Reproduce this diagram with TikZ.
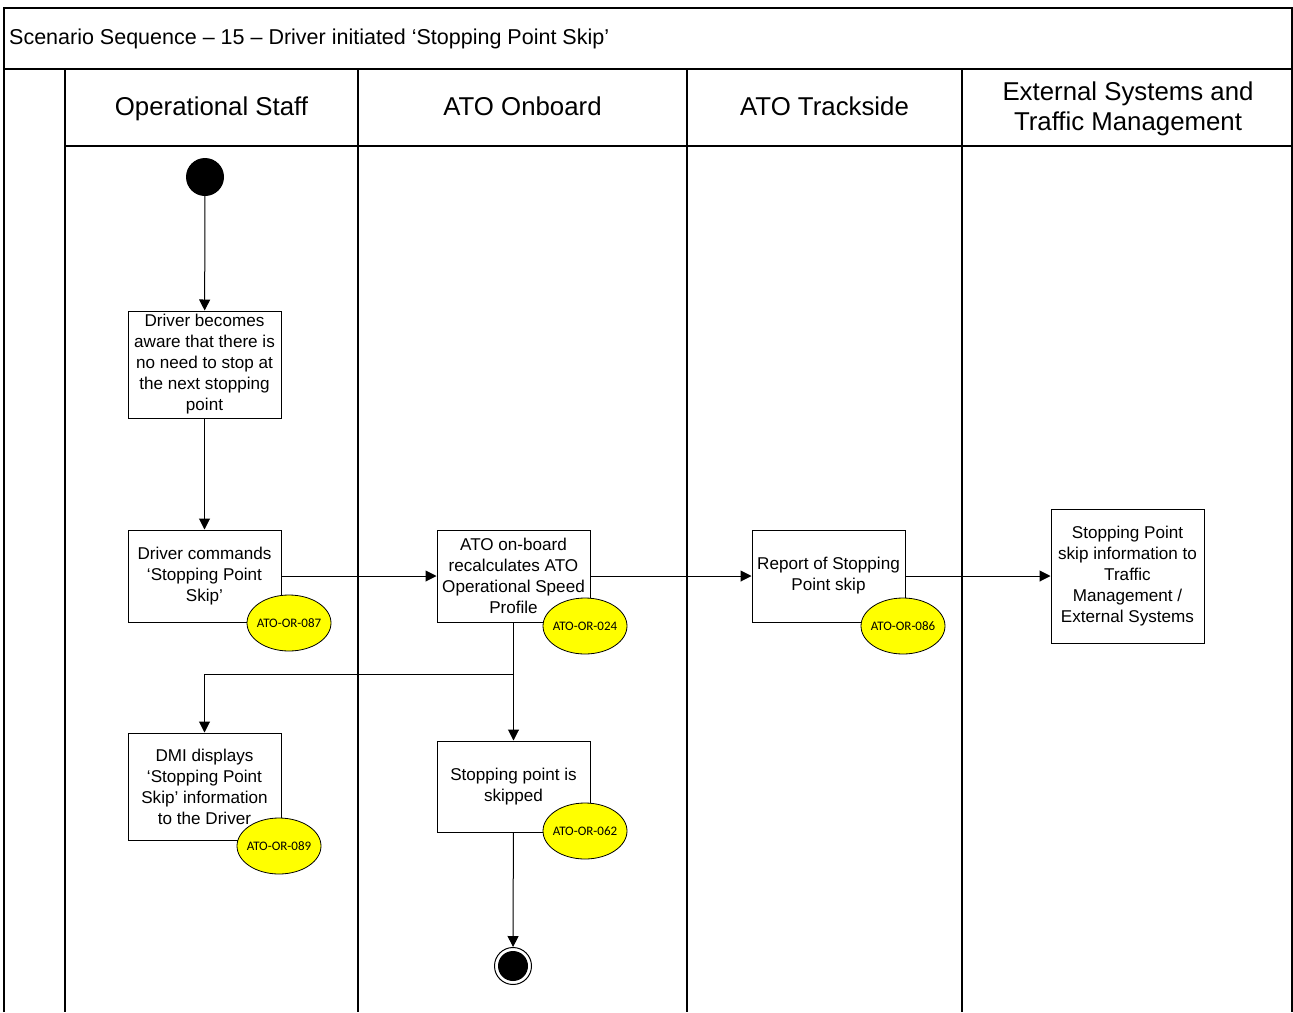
\documentclass[tikz,border=0pt]{standalone}
\usepackage{fontspec}
\setmainfont{Liberation Sans}
\newfontfamily\reqfont{Carlito}
\usetikzlibrary{arrows.meta,shapes.geometric}
\definecolor{reqyellow}{RGB}{255,255,0}
\begin{document}
\begin{tikzpicture}[x=1pt,y=-1pt,
  frame/.style={line width=1.3pt},
  lane/.style={line width=1.1pt},
  action/.style={draw,line width=1pt,fill=white,align=center,inner sep=0pt,
    font=\fontsize{17.1}{21}\selectfont},
  req/.style={draw,ellipse,line width=0.8pt,fill=reqyellow,minimum width=84pt,
    minimum height=56pt,inner xsep=-4pt,inner ysep=0pt,
    font=\reqfont\fontsize{13}{15}\selectfont},
  flow/.style={line width=1pt,-{Triangle[length=11pt,width=11pt]}},
  plain/.style={line width=1pt},
  lanehead/.style={anchor=base,inner sep=0pt,font=\fontsize{25.8}{29.3}\selectfont,align=center}]
\useasboundingbox (0,0) rectangle (1293,1012);
% outer frame and title row
\draw[frame] (4,1012) -- (4,8) -- (1292,8) -- (1292,1012);
\draw[frame] (4,69) -- (1292,69);
\node[anchor=west,inner sep=0pt,font=\fontsize{21.5}{25}\selectfont] (title) at (9,39)
  {Scenario Sequence -- 15 -- Driver initiated `Stopping Point Skip'};
% swimlanes
\draw[lane] (65,69) -- (65,1012);
\draw[lane] (358,69) -- (358,1012);
\draw[lane] (687,69) -- (687,1012);
\draw[lane] (962,69) -- (962,1012);
\draw[lane] (65,146) -- (1292,146);
\node[lanehead] (h1) at (211.5,115.5) {Operational Staff};
\node[lanehead] (h2) at (522.5,115.5) {ATO Onboard};
\node[lanehead] (h3) at (824.5,115.5) {ATO Trackside};
% the base of a two-line node sits on its last line
\node[lanehead] (h4) at (1128,130) {External Systems and\\Traffic Management};
% start and end
\node[circle,fill=black,minimum size=38pt,inner sep=0pt] (start) at (205,177) {};
\node[circle,draw,line width=1pt,fill=white,minimum size=37pt,inner sep=0pt] (stop) at (513,966) {};
\node[circle,fill=black,minimum size=30pt,inner sep=0pt] at (stop.center) {};
% actions
\node[action,minimum width=153pt,minimum height=107pt] (aware) at (204.5,364.5)
  {Driver becomes\\aware that there is\\no need to stop at\\the next stopping\\point};
\node[action,minimum width=153pt,minimum height=92pt] (cmd) at (204.5,576)
  {Driver commands\\`Stopping Point\\Skip'};
\node[action,minimum width=153pt,minimum height=92pt] (recalc) at (513.5,576)
  {ATO on-board\\recalculates ATO\\Operational Speed\\Profile};
\node[action,minimum width=153pt,minimum height=92pt] (report) at (828.5,576)
  {Report of Stopping\\Point skip};
\node[action,minimum width=153pt,minimum height=134pt] (ext) at (1127.5,576)
  {Stopping Point\\skip information to\\Traffic\\Management /\\External Systems};
\node[action,minimum width=153pt,minimum height=107pt] (dmi) at (204.5,786.5)
  {DMI displays\\`Stopping Point\\Skip' information\\to the Driver};
\node[action,minimum width=153pt,minimum height=91pt] (skip) at (513.5,786.5)
  {Stopping point is\\skipped};
% requirement tags
\node[req] (r087) at (289,623) {ATO-OR-087};
\node[req] (r024) at (585,626) {ATO-OR-024};
\node[req] (r086) at (903,626) {ATO-OR-086};
\node[req] (r089) at (279,846) {ATO-OR-089};
\node[req] (r062) at (585,831) {ATO-OR-062};
% flows
\coordinate (split) at (513.5,674);
\draw[flow] (start) -- (aware);
\draw[flow] (aware) -- (cmd);
\draw[flow] (cmd) -- (recalc);
\draw[flow] (recalc) -- (report);
\draw[flow] (report) -- (ext);
\draw[plain] (recalc.south) -- (split);
\draw[flow] (split) -| (dmi.north);
\draw[flow] (split) -- (skip.north);
\draw[flow] (skip) -- (stop);
\end{tikzpicture}
\end{document}
